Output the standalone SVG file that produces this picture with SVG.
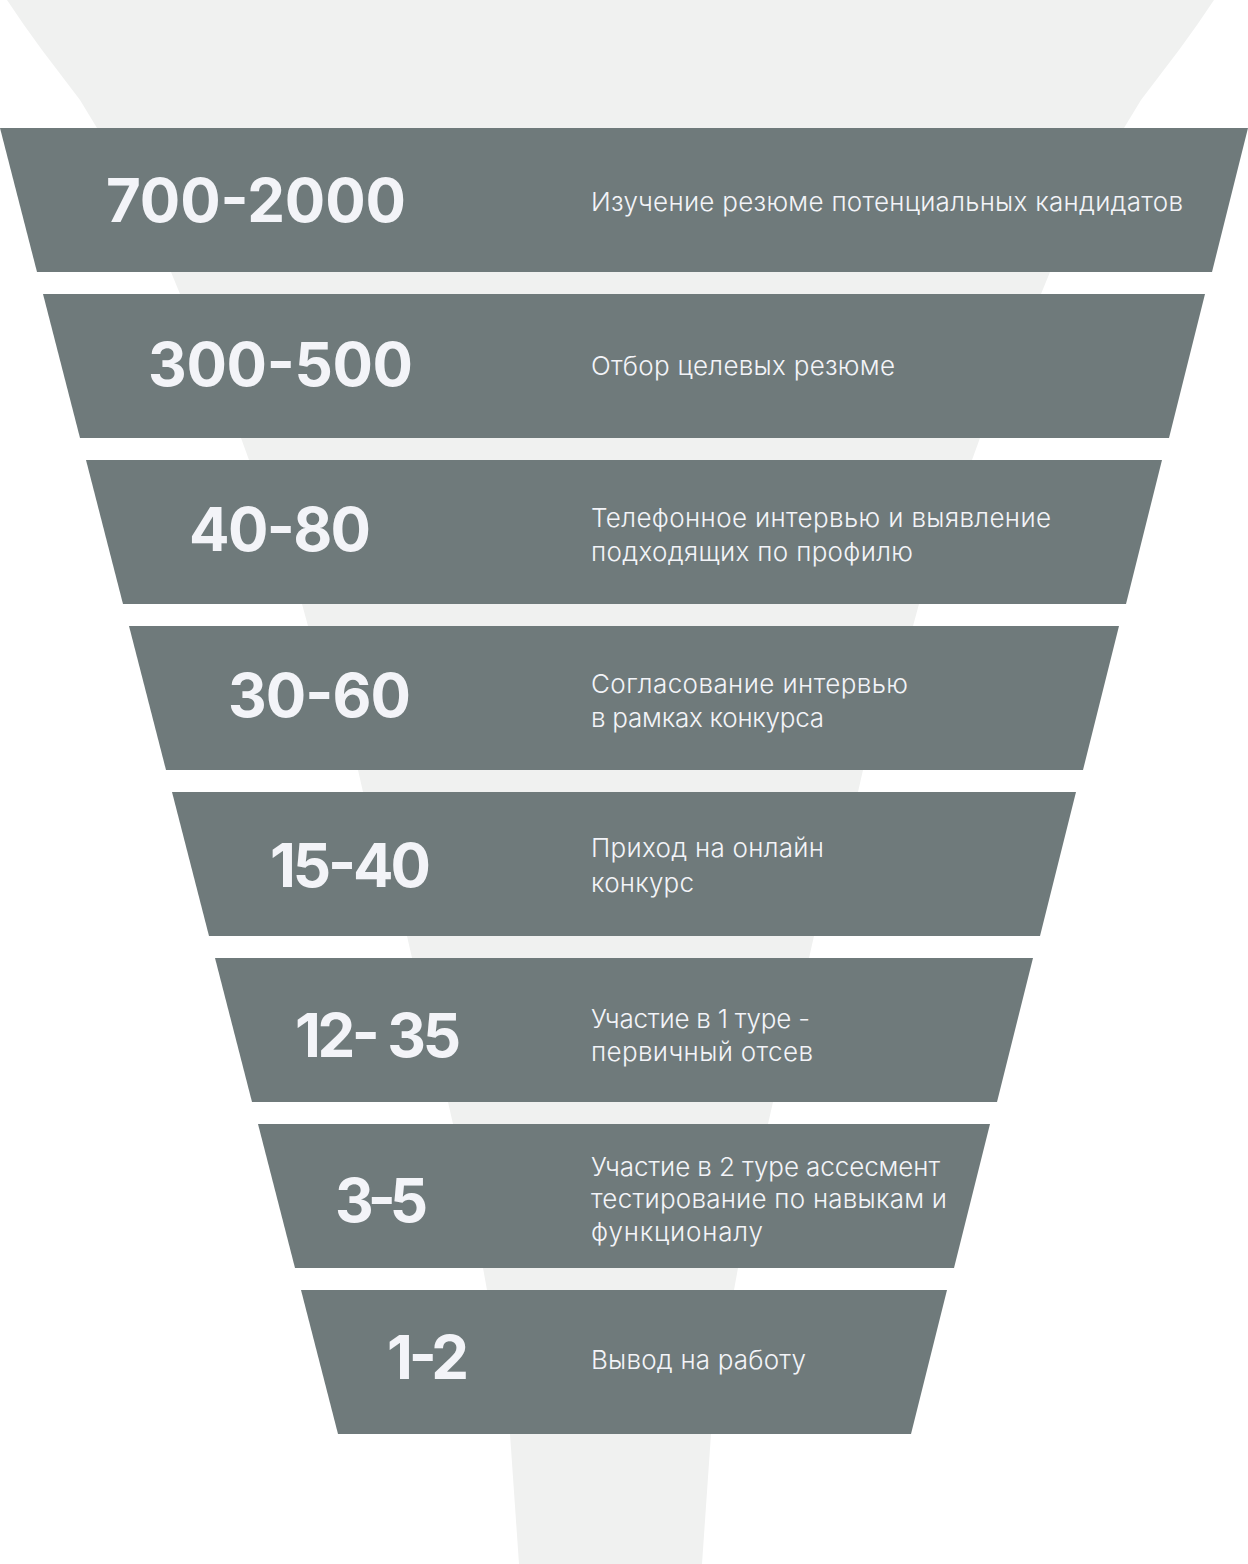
<svg xmlns="http://www.w3.org/2000/svg" width="1248" height="1564" viewBox="0 0 1248 1564">
<style>
.bar{fill:#6f7a7b}
.num{font-family:Inter,"Liberation Sans",sans-serif;font-weight:700;font-size:60px;fill:#f3f4f8}
.desc{font-family:Inter,"Liberation Sans",sans-serif;font-weight:300;font-size:26px;fill:#f3f4f8}
</style>
<rect x="0" y="0" width="1248" height="1564" fill="#ffffff"/>
<g id="funnel-bg">
<path fill="#f0f1f0" d="M7,0 L24,25 L42,50 L61,75 L80,100 L97,128 L171,272 L180,294 L241,438 L249,460 L302,604 L308,626 L358,770 L363,792 L407,936 L412,958 L448,1102 L453,1124 L483,1268 L487,1290 L510,1434 L519,1564 L702,1564 L711,1434 L734,1290 L738,1268 L768,1124 L773,1102 L809,958 L814,936 L858,792 L863,770 L913,626 L919,604 L972,460 L980,438 L1041,294 L1050,272 L1124,128 L1141,100 L1160,75 L1179,50 L1197,25 L1214,0 Z"/>
</g>
<g id="connectors"></g>
<g id="stage1">
<polygon class="bar" points="0,128 1248,128 1212,272 37,272"/>
<text class="num" x="106" y="222" textLength="300">700-2000</text>
<text class="desc" x="591" y="211" textLength="592">Изучение резюме потенциальных кандидатов</text>
</g>
<g id="stage2">
<polygon class="bar" points="43,294 1205,294 1169,438 80,438"/>
<text class="num" x="148" y="386" textLength="265">300-500</text>
<text class="desc" x="591" y="375" textLength="304">Отбор целевых резюме</text>
</g>
<g id="stage3">
<polygon class="bar" points="86,460 1162,460 1126,604 123,604"/>
<text class="num" x="189" y="551" textLength="182">40-80</text>
<text class="desc" x="591" y="527" textLength="460">Телефонное интервью и выявление</text>
<text class="desc" x="591" y="561" textLength="322">подходящих по профилю</text>
</g>
<g id="stage4">
<polygon class="bar" points="129,626 1119,626 1083,770 166,770"/>
<text class="num" x="228" y="717" textLength="183">30-60</text>
<text class="desc" x="591" y="693" textLength="317">Согласование интервью</text>
<text class="desc" x="591" y="727" textLength="233">в рамках конкурса</text>
</g>
<g id="stage5">
<polygon class="bar" points="172,792 1076,792 1040,936 209,936"/>
<text class="num" x="270" y="887" textLength="161">15-40</text>
<text class="desc" x="591" y="857" textLength="233">Приход на онлайн</text>
<text class="desc" x="591" y="892" textLength="103">конкурс</text>
</g>
<g id="stage6">
<polygon class="bar" points="215,958 1033,958 997,1102 252,1102"/>
<text class="num" x="295" y="1057" textLength="166">12- 35</text>
<text class="desc" x="591" y="1028" textLength="219">Участие в 1 туре -</text>
<text class="desc" x="591" y="1061" textLength="222">первичный отсев</text>
</g>
<g id="stage7">
<polygon class="bar" points="258,1124 990,1124 954,1268 295,1268"/>
<text class="num" x="335" y="1222" textLength="93">3-5</text>
<text class="desc" x="591" y="1176" textLength="349">Участие в 2 туре ассесмент</text>
<text class="desc" x="591" y="1208" textLength="356">тестирование по навыкам и</text>
<text class="desc" x="591" y="1241" textLength="172">функционалу</text>
</g>
<g id="stage8">
<polygon class="bar" points="301,1290 947,1290 911,1434 338,1434"/>
<text class="num" x="387" y="1379" textLength="82">1-2</text>
<text class="desc" x="591" y="1369" textLength="215">Вывод на работу</text>
</g>
</svg>
